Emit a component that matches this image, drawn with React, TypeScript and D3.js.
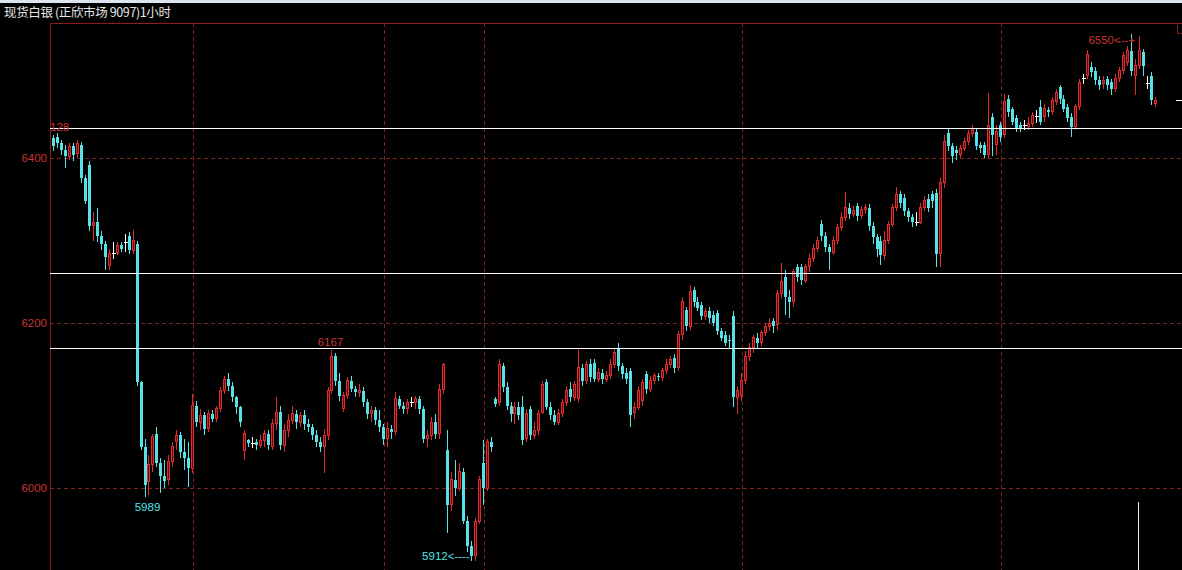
import React from "react"
import * as d3 from "d3"

// hourly spot silver candles (left to right)
const opens = [
  6424, 6426, 6418, 6410, 6402, 6414, 6406, 6416, 6376, 6392,
  6318, 6322, 6306, 6296, 6270, 6284, 6286, 6294, 6298, 6306,
  6288, 6296, 6128, 6050, 6008, 6028, 6066, 6030, 6014, 6010,
  6032, 6056, 6064, 6044, 6036, 6024, 6100, 6080, 6088, 6072,
  6090, 6084, 6096, 6118, 6132, 6124, 6110, 6098, 6046, 6058,
  6054, 6056, 6052, 6058, 6066, 6050, 6078, 6092, 6052, 6070,
  6082, 6090, 6080, 6088, 6078, 6074, 6064, 6056, 6050, 6064,
  6118, 6160, 6130, 6096, 6112, 6130, 6120, 6116, 6118, 6104,
  6090, 6094, 6082, 6074, 6060, 6072, 6068, 6108, 6100, 6096,
  6104, 6104, 6108, 6096, 6060, 6064, 6080, 6066, 6120, 6046,
  5980, 6010, 6000, 6020, 5960, 5930, 5918, 5960, 6030, 6000,
  6056, 6108, 6104, 6148, 6122, 6100, 6090, 6098, 6098, 6060,
  6096, 6064, 6070, 6092, 6128, 6098, 6088, 6080, 6090, 6104,
  6120, 6110, 6108, 6146, 6130, 6150, 6152, 6132, 6140, 6132,
  6136, 6150, 6168, 6148, 6140, 6142, 6092, 6098, 6106, 6138,
  6120, 6130, 6136, 6134, 6142, 6150, 6158, 6146, 6186, 6216,
  6196, 6240, 6226, 6222, 6208, 6214, 6210, 6212, 6190, 6186,
  6180, 6208, 6110, 6112, 6130, 6160, 6170, 6182, 6176, 6188,
  6196, 6202, 6198, 6236, 6256, 6232, 6226, 6268, 6268, 6252,
  6268, 6278, 6290, 6320, 6306, 6292, 6286, 6300, 6316, 6328,
  6340, 6332, 6342, 6330, 6338, 6340, 6318, 6304, 6300, 6282,
  6300, 6320, 6340, 6356, 6352, 6336, 6328, 6322, 6322, 6340,
  6350, 6356, 6358, 6284, 6370, 6430, 6414, 6410, 6404, 6412,
  6420, 6430, 6432, 6416, 6416, 6404, 6450, 6416, 6440, 6428,
  6472, 6460, 6448, 6440, 6440, 6438, 6442, 6450, 6462, 6450,
  6458, 6456, 6468, 6486, 6472, 6462, 6450, 6438, 6462, 6496,
  6500, 6510, 6506, 6494, 6490, 6496, 6492, 6484, 6496, 6506,
  6516, 6530, 6500, 6512, 6528, 6490, 6500, 6466,
]

const highs = [
  6428, 6430, 6422, 6416, 6418, 6418, 6422, 6420, 6380, 6396,
  6334, 6340, 6312, 6300, 6290, 6298, 6298, 6298, 6308, 6310,
  6313, 6300, 6130, 6060, 6040, 6066, 6074, 6036, 6034, 6040,
  6056, 6070, 6068, 6060, 6056, 6114, 6106, 6096, 6092, 6094,
  6094, 6100, 6122, 6136, 6139, 6128, 6112, 6100, 6070, 6060,
  6062, 6060, 6064, 6070, 6070, 6084, 6110, 6100, 6078, 6090,
  6100, 6094, 6092, 6094, 6084, 6078, 6070, 6062, 6072, 6122,
  6167, 6164, 6140, 6116, 6134, 6136, 6124, 6126, 6122, 6108,
  6100, 6098, 6094, 6078, 6080, 6076, 6116, 6112, 6104, 6108,
  6110, 6112, 6112, 6100, 6070, 6086, 6090, 6126, 6152, 6070,
  6020, 6034, 6030, 6024, 5966, 5936, 5964, 6014, 6058, 6060,
  6062, 6110, 6156, 6152, 6128, 6104, 6104, 6104, 6112, 6096,
  6100, 6080, 6094, 6130, 6132, 6104, 6094, 6096, 6108, 6124,
  6128, 6130, 6167, 6150, 6154, 6156, 6156, 6146, 6144, 6142,
  6156, 6168, 6176, 6152, 6146, 6146, 6104, 6124, 6132, 6142,
  6136, 6140, 6140, 6146, 6156, 6160, 6162, 6190, 6232, 6220,
  6246, 6244, 6232, 6226, 6218, 6220, 6214, 6216, 6194, 6190,
  6186, 6214, 6124, 6140, 6166, 6176, 6186, 6188, 6192, 6200,
  6206, 6206, 6240, 6273, 6264, 6240, 6266, 6272, 6272, 6272,
  6284, 6296, 6304, 6325, 6310, 6296, 6306, 6320, 6334, 6359,
  6346, 6342, 6346, 6342, 6344, 6344, 6322, 6308, 6306, 6312,
  6324, 6344, 6365, 6360, 6356, 6340, 6332, 6334, 6346, 6354,
  6356, 6360, 6362, 6376, 6428, 6436, 6418, 6414, 6416, 6424,
  6434, 6440, 6436, 6420, 6420, 6479, 6454, 6440, 6444, 6478,
  6476, 6462, 6452, 6444, 6446, 6450, 6456, 6458, 6470, 6466,
  6462, 6474, 6484, 6488, 6476, 6466, 6454, 6466, 6496, 6502,
  6531, 6516, 6510, 6500, 6500, 6500, 6496, 6502, 6510, 6528,
  6536, 6550, 6520, 6548, 6532, 6500, 6504, 6474,
]

const lows = [
  6408, 6412, 6404, 6388, 6398, 6396, 6400, 6370, 6344, 6312,
  6300, 6298, 6288, 6264, 6264, 6278, 6282, 6286, 6286, 6284,
  6284, 6124, 6046, 5989, 5992, 6020, 6026, 5994, 6000, 6004,
  6026, 6046, 6036, 6022, 6001, 6018, 6074, 6070, 6064, 6068,
  6080, 6080, 6092, 6114, 6118, 6104, 6090, 6074, 6034, 6050,
  6048, 6046, 6048, 6050, 6046, 6046, 6070, 6046, 6044, 6062,
  6078, 6072, 6074, 6070, 6068, 6058, 6050, 6044, 6018, 6058,
  6114, 6124, 6106, 6092, 6108, 6116, 6110, 6110, 6098, 6084,
  6080, 6076, 6068, 6052, 6050, 6060, 6064, 6096, 6090, 6090,
  6098, 6096, 6090, 6054, 6050, 6058, 6060, 6060, 6114, 5946,
  5972, 5990, 5996, 5956, 5922, 5912, 5912, 5956, 5980, 5996,
  6044, 6098, 6100, 6116, 6094, 6080, 6078, 6082, 6052, 6056,
  6058, 6060, 6064, 6090, 6094, 6082, 6076, 6076, 6086, 6100,
  6104, 6106, 6104, 6124, 6126, 6128, 6128, 6128, 6126, 6128,
  6132, 6146, 6142, 6132, 6126, 6074, 6084, 6094, 6100, 6114,
  6116, 6126, 6130, 6130, 6138, 6146, 6140, 6142, 6180, 6190,
  6192, 6220, 6214, 6204, 6204, 6200, 6196, 6186, 6178, 6172,
  6170, 6098, 6090, 6106, 6126, 6154, 6164, 6170, 6172, 6184,
  6190, 6188, 6192, 6230, 6210, 6206, 6220, 6250, 6246, 6248,
  6262, 6274, 6286, 6300, 6286, 6264, 6282, 6296, 6312, 6324,
  6326, 6328, 6324, 6326, 6332, 6312, 6296, 6280, 6270, 6276,
  6296, 6316, 6336, 6340, 6330, 6322, 6316, 6318, 6320, 6336,
  6334, 6340, 6268, 6268, 6364, 6408, 6394, 6398, 6400, 6408,
  6416, 6426, 6410, 6406, 6400, 6400, 6402, 6404, 6420, 6424,
  6450, 6440, 6432, 6432, 6434, 6434, 6438, 6442, 6440, 6444,
  6450, 6452, 6464, 6466, 6456, 6444, 6425, 6434, 6458, 6490,
  6496, 6498, 6488, 6482, 6484, 6482, 6476, 6480, 6492, 6502,
  6512, 6500, 6476, 6508, 6500, 6484, 6464, 6462,
]

const closes = [
  6414, 6418, 6410, 6402, 6414, 6404, 6418, 6376, 6348, 6318,
  6322, 6306, 6296, 6280, 6284, 6284, 6294, 6290, 6298, 6288,
  6300, 6128, 6050, 6004, 6028, 6062, 6030, 6014, 6008, 6032,
  6050, 6064, 6044, 6036, 6024, 6100, 6080, 6088, 6072, 6090,
  6084, 6096, 6118, 6132, 6124, 6110, 6098, 6080, 6066, 6054,
  6054, 6052, 6058, 6066, 6052, 6078, 6092, 6052, 6070, 6082,
  6090, 6080, 6088, 6078, 6074, 6064, 6056, 6050, 6064, 6118,
  6160, 6130, 6112, 6112, 6130, 6120, 6116, 6118, 6104, 6090,
  6094, 6082, 6074, 6060, 6072, 6068, 6108, 6100, 6096, 6104,
  6104, 6108, 6096, 6060, 6064, 6080, 6066, 6120, 6150, 5980,
  6010, 6000, 6020, 5960, 5930, 5918, 5960, 6010, 6000, 6056,
  6050, 6102, 6150, 6122, 6100, 6090, 6098, 6088, 6058, 6090,
  6064, 6070, 6090, 6126, 6098, 6088, 6080, 6090, 6104, 6118,
  6110, 6126, 6146, 6130, 6150, 6134, 6132, 6140, 6132, 6136,
  6150, 6164, 6148, 6138, 6132, 6088, 6098, 6118, 6128, 6120,
  6130, 6136, 6134, 6142, 6150, 6156, 6146, 6186, 6226, 6196,
  6238, 6226, 6218, 6208, 6214, 6206, 6200, 6190, 6182, 6176,
  6178, 6110, 6118, 6130, 6160, 6170, 6182, 6176, 6188, 6196,
  6200, 6196, 6236, 6250, 6232, 6226, 6262, 6256, 6252, 6268,
  6278, 6290, 6300, 6306, 6292, 6286, 6300, 6316, 6328, 6340,
  6332, 6336, 6330, 6338, 6340, 6318, 6304, 6290, 6282, 6300,
  6320, 6340, 6356, 6346, 6336, 6328, 6322, 6322, 6340, 6348,
  6340, 6348, 6284, 6370, 6420, 6414, 6402, 6406, 6412, 6420,
  6430, 6434, 6414, 6412, 6404, 6440, 6428, 6432, 6426, 6468,
  6456, 6444, 6436, 6436, 6440, 6442, 6452, 6450, 6444, 6460,
  6456, 6470, 6480, 6472, 6460, 6448, 6438, 6462, 6492, 6496,
  6526, 6504, 6494, 6488, 6494, 6488, 6484, 6496, 6506, 6524,
  6530, 6506, 6512, 6530, 6512, 6490, 6470, 6470,
]

const gridPrices = [6000, 6200, 6400]
const levelLines = [6436, 6261, 6170]
const dayBreaks = [35, 83, 108, 173, 238]
const swingHighs = [70]
const swingLows = [23]
const title = "现货白银 (正欣市场 9097)1小时"

const W = 1182
const H = 570
const plotLeft = 50
const plotTop = 23

const UP = "#e02c2c"
const UP_FILL = "#5c0e0e"
const DOWN = "#58e2e6"
const GRID = "#7e2222"
const FRAME = "#8c1c1c"
const LABEL = "#c83434"
const numFont = "'Liberation Sans', Arial, sans-serif"

export default function App() {
  const n = closes.length
  const x = d3.scaleLinear().domain([0, n - 1]).range([53, 1155])
  const y = d3.scaleLinear().domain([6000, 6400]).range([488, 158])

  const hiIdx = d3.maxIndex(highs)
  const loIdx = d3.minIndex(lows)
  const last = closes[n - 1]

  const candles = closes.map((c, i) => {
    const o = opens[i]
    const cx = Math.round(x(i)) + 0.5
    const yh = y(highs[i])
    const yl = y(lows[i])
    const yo = y(o)
    const yc = y(c)
    const t = Math.min(yo, yc)
    const b = Math.max(yo, yc)
    if (c > o) {
      // up bars: hollow red, as in the trading terminal
      return (
        <g key={i}>
          <line x1={cx} x2={cx} y1={yh} y2={t} stroke={UP} />
          <line x1={cx} x2={cx} y1={b} y2={yl} stroke={UP} />
          <rect
            x={cx - 1}
            y={t}
            width={2}
            height={Math.max(b - t, 1)}
            fill={UP_FILL}
            stroke={UP}
          />
        </g>
      )
    }
    if (c < o) {
      return (
        <g key={i}>
          <line x1={cx} x2={cx} y1={yh} y2={yl} stroke={DOWN} />
          <rect
            x={cx - 1.5}
            y={t}
            width={3}
            height={Math.max(b - t, 1)}
            fill={DOWN}
          />
        </g>
      )
    }
    return (
      <g key={i}>
        <line x1={cx} x2={cx} y1={yh} y2={yl} stroke="#ffffff" />
        <line x1={cx - 2} x2={cx + 2} y1={yo} y2={yo} stroke="#ffffff" />
      </g>
    )
  })

  return (
    <svg
      width={W}
      height={H}
      style={{ position: "absolute", left: 0, top: 0, background: "#000" }}
    >
      <rect x={0} y={0} width={W} height={H} fill="#000" />
      <rect x={0} y={0} width={W} height={3} fill="#dde4ec" />
      <text
        x={4}
        y={17}
        fill="#e6e6e6"
        fontSize={12.5}
        fontFamily="'Noto Sans CJK SC', sans-serif"
        textLength={167}
      >
        {title}
      </text>

      <g shapeRendering="crispEdges">
        {gridPrices.map((p) => (
          <line
            key={p}
            x1={plotLeft}
            x2={W}
            y1={Math.round(y(p)) + 0.5}
            y2={Math.round(y(p)) + 0.5}
            stroke={GRID}
            strokeDasharray="4,3"
          />
        ))}
        {dayBreaks.map((i) => (
          <line
            key={i}
            x1={Math.round(x(i)) + 1.5}
            x2={Math.round(x(i)) + 1.5}
            y1={plotTop}
            y2={H}
            stroke={GRID}
            strokeDasharray="4,3"
          />
        ))}
        <line x1={plotLeft} x2={W} y1={plotTop + 0.5} y2={plotTop + 0.5} stroke={FRAME} />
        <line x1={plotLeft + 0.5} x2={plotLeft + 0.5} y1={plotTop} y2={H} stroke={FRAME} />
        <path d="M1177.5,25 V33.5 H1182" fill="none" stroke={FRAME} />

        {candles}

        {levelLines.map((p) => (
          <line
            key={p}
            x1={plotLeft}
            x2={W}
            y1={Math.round(y(p)) + 0.5}
            y2={Math.round(y(p)) + 0.5}
            stroke="#ffffff"
          />
        ))}
        <line
          x1={1176}
          x2={1182}
          y1={Math.round(y(last)) + 0.5}
          y2={Math.round(y(last)) + 0.5}
          stroke="#ffffff"
        />
        <line
          x1={Math.round(x(273)) - 0.5}
          x2={Math.round(x(273)) - 0.5}
          y1={502}
          y2={H}
          stroke="#f2f2d6"
        />
      </g>

      <g fontFamily={numFont} fontSize={11.5}>
        {gridPrices.map((p) => (
          <text key={p} x={47} y={y(p) + 4} fill={LABEL} textAnchor="end">
            {p}
          </text>
        ))}
        <text x={50} y={131} fill={LABEL}>
          128
        </text>
        {swingHighs.map((i) => (
          <text key={i} x={x(i) - 1} y={y(highs[i]) - 4} fill={LABEL} textAnchor="middle">
            {highs[i]}
          </text>
        ))}
        {swingLows.map((i) => (
          <text key={i} x={x(i) + 3} y={y(lows[i]) + 14} fill={DOWN} textAnchor="middle">
            {lows[i]}
          </text>
        ))}
        <text x={x(loIdx) - 1} y={y(lows[loIdx]) - 1} fill={DOWN} textAnchor="end">
          {lows[loIdx] + "<----"}
        </text>
        <text x={x(hiIdx) + 4} y={y(highs[hiIdx]) + 10} fill={LABEL} textAnchor="end">
          {highs[hiIdx] + "<--+"}
        </text>
      </g>
    </svg>
  )
}
